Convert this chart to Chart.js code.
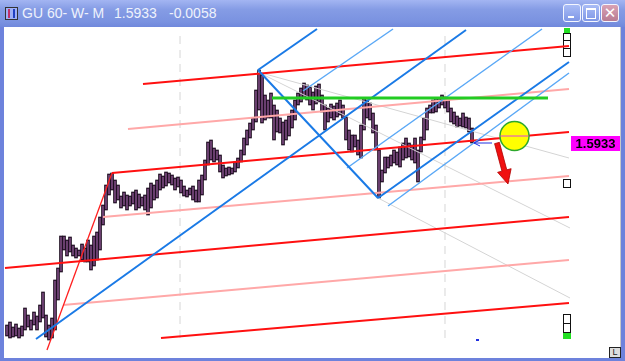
<!DOCTYPE html>
<html><head><meta charset="utf-8">
<script src="https://cdn.jsdelivr.net/npm/chart.js@4.4.0/dist/chart.umd.min.js"></script>
<style>
html,body{margin:0;padding:0;width:625px;height:361px;overflow:hidden;background:#6d82dc;}
#title{position:absolute;left:0;top:0;width:625px;height:27px;background:linear-gradient(#a3b5f2,#859ce5 35%,#7a92e0 80%,#7088dc);}
.tt{position:absolute;top:5px;font:14px "Liberation Sans",Arial,sans-serif;color:#eef2fc;white-space:pre;}
#icon{position:absolute;left:5px;top:7px;width:11px;height:11px;border:1px solid #333;background:#9fb0f5;}
#icon:after{content:"";position:absolute;left:2px;top:1px;width:3px;height:9px;border-left:2px solid #c0306a;border-right:2px solid #2040c0;}
.btn{position:absolute;top:4px;width:16px;height:16px;border:1px solid #f4f6ff;border-radius:3px;background:linear-gradient(#a9bcf6,#7f97e6);}
#bclose{background:linear-gradient(#d9a2b4,#b77b92);}
#client{position:absolute;left:4px;top:27px;width:616px;height:331px;background:#fff;border-right:1px solid #c8c8c8;}
.sb{position:absolute;width:6px;border:1px solid #111;background:#fff;}
#chartwrap{position:absolute;left:0;top:0;width:625px;height:361px;}
#lbox{position:absolute;left:609px;top:347px;width:10px;height:9px;border:1px solid #222;background:#ddd;font:9px "Liberation Sans",Arial;line-height:9px;text-align:center;color:#222;}
</style></head>
<body>
<div id="title"><div id="icon"></div>
<div class="tt" style="left:22px">GU 60- W- M</div><div class="tt" style="left:114px">1.5933</div><div class="tt" style="left:169px">-0.0058</div>
<div class="btn" style="left:563px"><div style="position:absolute;left:4px;top:11px;width:6px;height:2px;background:#fff"></div></div>
<div class="btn" style="left:582px"><div style="position:absolute;left:3px;top:3px;width:8px;height:8px;border:1px solid #fff;border-top-width:2px"></div></div>
<div class="btn" id="bclose" style="left:601px"><div style="position:absolute;left:0;top:-1px;width:16px;text-align:center;font:bold 15px 'DejaVu Sans',sans-serif;color:#fff">✕</div></div>
</div>
<div id="client"></div>
<div style="position:absolute;left:564px;top:28px;width:6px;height:5px;background:#22e022"></div>
<div class="sb" style="left:563px;top:33px;height:6px"></div>
<div class="sb" style="left:563px;top:40px;height:7px"></div>
<div class="sb" style="left:563px;top:48px;height:7px"></div>
<div class="sb" style="left:563px;top:179px;height:7px"></div>
<div class="sb" style="left:563px;top:314px;height:8px"></div>
<div class="sb" style="left:563px;top:323px;height:8px"></div>
<div style="position:absolute;left:563px;top:333px;width:8px;height:6px;background:#22e022"></div>
<div style="position:absolute;left:476px;top:339px;width:3px;height:2px;background:#2030e0"></div>
<div id="lbox">L</div>
<div id="chartwrap"><canvas id="c" width="625" height="361"></canvas></div>
<script>
// ---- price bars (GBP/USD 60 min) ----
const highs = [
1.5751,1.5754,1.5749,1.5752,1.5748,1.5750,1.5768,1.5761,1.5756,1.5764,
1.5760,1.5771,1.5784,1.5761,1.5751,1.5758,1.5796,1.5808,1.5840,1.5840,
1.5836,1.5839,1.5831,1.5828,1.5826,1.5832,1.5828,1.5836,1.5831,1.5840,
1.5844,1.5859,1.5871,1.5891,1.5902,1.5903,1.5896,1.5891,1.5880,1.5884,
1.5881,1.5880,1.5884,1.5886,1.5882,1.5879,1.5881,1.5888,1.5893,1.5891,
1.5896,1.5902,1.5900,1.5904,1.5903,1.5901,1.5898,1.5899,1.5896,1.5890,
1.5886,1.5888,1.5890,1.5886,1.5896,1.5901,1.5916,1.5934,1.5936,1.5928,
1.5926,1.5921,1.5911,1.5908,1.5909,1.5908,1.5914,1.5918,1.5926,1.5938,
1.5946,1.5953,1.5958,1.5986,1.6006,1.6001,1.5981,1.5976,1.5983,1.5971,
1.5966,1.5958,1.5954,1.5956,1.5960,1.5966,1.5976,1.5983,1.5988,1.5993,
1.5991,1.5989,1.5984,1.5990,1.5992,1.5981,1.5971,1.5968,1.5972,1.5970,
1.5973,1.5976,1.5971,1.5959,1.5946,1.5941,1.5941,1.5936,1.5951,1.5978,
1.5976,1.5973,1.5963,1.5951,1.5926,1.5906,1.5919,1.5919,1.5921,1.5926,
1.5924,1.5929,1.5933,1.5938,1.5933,1.5931,1.5938,1.5926,1.5939,1.5958,
1.5968,1.5971,1.5976,1.5978,1.5978,1.5981,1.5979,1.5976,1.5968,1.5964,
1.5960,1.5958,1.5963,1.5959,1.5958,1.5948];
const lows = [
1.5740,1.5738,1.5739,1.5740,1.5738,1.5740,1.5746,1.5749,1.5746,1.5751,
1.5746,1.5754,1.5758,1.5739,1.5736,1.5738,1.5746,1.5776,1.5804,1.5826,
1.5820,1.5824,1.5820,1.5818,1.5820,1.5816,1.5814,1.5814,1.5806,1.5810,
1.5816,1.5826,1.5851,1.5866,1.5881,1.5886,1.5873,1.5876,1.5868,1.5870,
1.5866,1.5870,1.5872,1.5866,1.5868,1.5870,1.5866,1.5861,1.5868,1.5876,
1.5878,1.5886,1.5888,1.5890,1.5893,1.5891,1.5886,1.5889,1.5883,1.5880,
1.5879,1.5881,1.5876,1.5874,1.5874,1.5881,1.5896,1.5911,1.5916,1.5914,
1.5916,1.5904,1.5898,1.5900,1.5901,1.5902,1.5904,1.5908,1.5914,1.5921,
1.5931,1.5938,1.5946,1.5954,1.5966,1.5953,1.5956,1.5958,1.5958,1.5936,
1.5944,1.5943,1.5931,1.5936,1.5940,1.5948,1.5956,1.5971,1.5974,1.5978,
1.5976,1.5971,1.5966,1.5972,1.5974,1.5964,1.5946,1.5954,1.5958,1.5956,
1.5959,1.5961,1.5958,1.5936,1.5926,1.5924,1.5929,1.5921,1.5918,1.5946,
1.5958,1.5956,1.5943,1.5926,1.5878,1.5894,1.5903,1.5908,1.5910,1.5913,
1.5911,1.5909,1.5916,1.5918,1.5919,1.5916,1.5913,1.5894,1.5924,1.5936,
1.5946,1.5963,1.5963,1.5964,1.5968,1.5971,1.5968,1.5964,1.5954,1.5952,
1.5949,1.5950,1.5949,1.5948,1.5944,1.5933];
const lastPrice = 1.5933;

// ---- drawing tools: [barIndex1, price1, barIndex2, price2] ----
const redLines = [[45.33,1.5992,187.33,1.6030],[35,1.5903,187.33,1.5944],[-0.67,1.5808,187.33,1.5859],[51.33,1.5738,187.33,1.5773]];
const pinkLines = [[40.33,1.5947,187.33,1.5987],[32,1.5859,187.33,1.5900],[18.67,1.5771,187.33,1.5816]];
const steepRed = [[13.33,1.5726,35,1.5903]];
const greenLines = [[88.33,1.5978,180.33,1.5978]];
const darkBlueLines = [[9.67,1.5737,153,1.6046],[83.67,1.6006,103.33,1.6047],[83.67,1.6006,123.67,1.5878],[123.67,1.5878,187.33,1.6014]];
const lightBlueLines = [[98.67,1.5985,128.67,1.6047],[113.33,1.5908,178.33,1.6047],[127,1.5870,187.33,1.6003]];
const grayLines = [[83.67,1.6004,187.33,1.5918],[83.67,1.6004,187.67,1.5848],[123.67,1.5878,187.67,1.5778]];
const dashedTimes = [57.67, 146];
const dashedRange = [1.5738, 1.6046];
const circleAt = [169.17, 1.5940];
const arrowFromTo = [163.33, 1.5933, 167, 1.5892];
const blueArrowFromTo = [161.67, 1.5933, 155.67, 1.5933];

const datasets = [];
// high-low sticks: dark outline + purple core
datasets.push({type:'bar', data: highs.map((h,i)=>({x:i, y:[lows[i], h]})),
  backgroundColor:'#1a0a1c', borderWidth:0,
  barThickness:3, grouped:false, order:51});
datasets.push({type:'bar', data: highs.map((h,i)=>({x:i, y:[lows[i]+0.0001, h-0.0001]})),
  backgroundColor:'#7a4a80', borderWidth:0,
  barThickness:1, grouped:false, order:50});
function addLines(arr, color, width, order, dash){
  arr.forEach(s=>datasets.push({type:'line', data:[{x:s[0],y:s[1]},{x:s[2],y:s[3]}],
    borderColor:color, borderWidth:width, pointRadius:0, fill:false, tension:0,
    borderDash:dash||[], order:order}));
}
dashedTimes.forEach(t=>addLines([[t,dashedRange[0],t,dashedRange[1]]], '#d6d6d6', 1, 100, [8,6]));
addLines(grayLines, '#d4d4d4', 1, 40);
addLines(pinkLines, '#ffa8a8', 2, 30);
addLines(redLines, '#ff1010', 2, 20);
addLines(steepRed, '#ff2020', 1.3, 20);
addLines(lightBlueLines, '#5aa8f6', 1.5, 15);
addLines(darkBlueLines, '#1a7ae6', 2, 10);
addLines(greenLines, '#22cc22', 3, 5);

const overlay = {
  id:'overlay',
  afterDatasetsDraw(chart){
    const {ctx, scales:{x, y}} = chart;
    ctx.save();
    const cx = x.getPixelForValue(circleAt[0]), cy = y.getPixelForValue(circleAt[1]);
    ctx.beginPath(); ctx.arc(cx, cy, 14.5, 0, Math.PI*2);
    ctx.fillStyle='#ffff00'; ctx.fill(); ctx.lineWidth=1.5; ctx.strokeStyle='#2ca82c'; ctx.stroke();
    ctx.beginPath(); ctx.moveTo(cx-14, cy); ctx.lineTo(cx+14, cy); ctx.strokeStyle='#e040e0'; ctx.lineWidth=1; ctx.stroke();
    const sx = x.getPixelForValue(arrowFromTo[0]), sy = y.getPixelForValue(arrowFromTo[1]);
    const tx = x.getPixelForValue(arrowFromTo[2]), ty = y.getPixelForValue(arrowFromTo[3]);
    const L = Math.hypot(tx-sx, ty-sy), ux=(tx-sx)/L, uy=(ty-sy)/L, nx=-uy, ny=ux;
    const hl=14, hw=7, sw=2.5;
    const bx = tx-ux*hl, by = ty-uy*hl;
    ctx.beginPath();
    ctx.moveTo(sx+nx*sw, sy+ny*sw); ctx.lineTo(bx+nx*sw, by+ny*sw); ctx.lineTo(bx+nx*hw, by+ny*hw);
    ctx.lineTo(tx, ty); ctx.lineTo(bx-nx*hw, by-ny*hw); ctx.lineTo(bx-nx*sw, by-ny*sw); ctx.lineTo(sx-nx*sw, sy-ny*sw);
    ctx.closePath(); ctx.fillStyle='#f01010'; ctx.fill(); ctx.strokeStyle='#b00000'; ctx.lineWidth=0.8; ctx.stroke();
    const ax1 = x.getPixelForValue(blueArrowFromTo[0]), ay1 = y.getPixelForValue(blueArrowFromTo[1]);
    const ax2 = x.getPixelForValue(blueArrowFromTo[2]);
    ctx.beginPath(); ctx.moveTo(ax1, ay1); ctx.lineTo(ax2, ay1);
    ctx.moveTo(ax2+6, ay1-3); ctx.lineTo(ax2, ay1); ctx.lineTo(ax2+6, ay1+3);
    ctx.strokeStyle='#2030e0'; ctx.lineWidth=1; ctx.stroke();
    const py = y.getPixelForValue(lastPrice);
    ctx.fillStyle='#ff00ff'; ctx.fillRect(571, Math.round(py)-7, 49, 15);
    ctx.fillStyle='#000'; ctx.font='bold 13px "Liberation Sans", Arial, sans-serif';
    ctx.textAlign='center'; ctx.textBaseline='middle';
    ctx.fillText(lastPrice.toFixed(4), 595.5, Math.round(py)+1);
    ctx.restore();
  }
};

new Chart(document.getElementById('c'), {
  type:'bar',
  data:{datasets},
  options:{
    responsive:false, animation:false, events:[],
    layout:{padding:0},
    plugins:{legend:{display:false}, tooltip:{enabled:false}, title:{display:false}},
    scales:{
      x:{type:'linear', min:-2.3333, max:206, display:false, offset:false},
      y:{type:'linear', min:1.5715, max:1.6076, display:false}
    }
  },
  plugins:[overlay]
});
</script>
</body></html>
